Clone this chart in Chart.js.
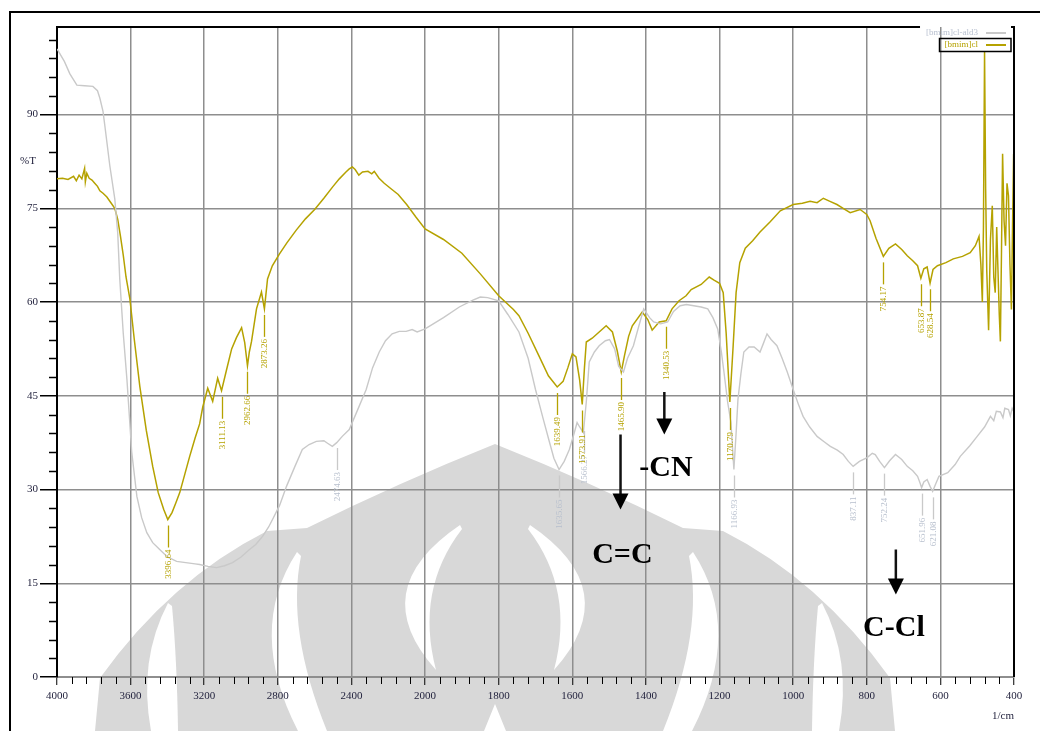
<!DOCTYPE html>
<html><head><meta charset="utf-8">
<script src="https://cdn.jsdelivr.net/npm/chart.js@4.4.0/dist/chart.umd.min.js"></script>
<style>html,body{margin:0;padding:0;background:#fff;}#wrap{position:relative;width:1040px;height:731px;}canvas{background:#fff;}</style>
</head><body><div id="wrap"><canvas id="c" width="1040" height="731"></canvas></div>
<script>
// ---------- DATA ----------
const seriesNames = ['[bmim]cl-ald3', '[bmim]cl'];
const xTickLabels = [4000,3600,3200,2800,2400,2000,1800,1600,1400,1200,1000,800,600,400];
const yTickLabels = [0,15,30,45,60,75,90];

const wnCl = [
 4000,3970,3940,3910,3895,3880,3865,3850,3846,3838,
 3825,3810,3795,3780,3767,3750,3729,3710,3686,3670,
 3655,3640,3625,3604,3580,3550,3515,3480,3450,3420,
 3398,3375,3355,3333,3305,3279,3250,3225,3208,3181,
 3154,3127,3106,3080,3051,3025,2997,2980,2965,2955,
 2943,2916,2889,2873,2856,2830,2791,2750,2700,2650,
 2600,2550,2500,2466,2430,2412,2395,2380,2360,2340,
 2310,2290,2276,2250,2222,2180,2146,2100,2050,2000,
 1950,1900,1850,1800,1760,1745,1720,1690,1665,1641,
 1625,1612,1600,1590,1580,1573,1567,1562,1546,1527,
 1508,1491,1478,1467,1458,1447,1437,1410,1395,1383,
 1364,1345,1329,1310,1291,1277,1250,1228,1215,1200,
 1190,1182,1172,1163,1155,1145,1130,1110,1090,1063,
 1035,1000,975,954,935,918,900,881,862,845,
 818,800,791,775,755,740,722,705,690,675,
 662,653,645,636,628,620,608,585,565,540,
 519,505,495,490,486,483,480,477,474,469,
 464,459,455,451,447,444,440,437,434,431,
 427,423,419,415,411,407,404,401,400];
const tCl = [
 79.7,79.8,79.6,80.1,79.4,80.3,79.7,81.4,79.2,80.6,
 79.8,79.5,79.0,78.5,77.8,77.4,76.8,76.0,75.0,73.2,
 70.5,67.5,64,60.5,54,46.5,39.5,33.7,29.5,26.8,
 25.2,26.3,27.8,29.5,32.5,35.3,38.2,40.5,43.2,46.2,
 44.1,47.8,45.8,49,52.5,54.3,55.9,53.5,49.8,52,
 53.7,58.9,61.6,58.9,63.7,65.8,67.7,69.5,71.5,73.3,
 74.8,76.6,78.5,79.7,80.8,81.3,81.6,81.2,80.3,80.8,
 80.9,80.5,80.9,79.8,79.0,78.0,77.2,75.6,73.6,71.7,
 70.0,67.8,64.5,61,58.8,57.8,55,51.3,48.2,46.4,
 47.3,49.5,51.7,51.2,47.5,43.6,49.5,53.6,54.2,55.2,
 56.2,55.2,52.2,48.8,51.5,54.5,56.2,58.4,57.2,55.5,
 56.8,57.0,58.9,60.2,61,62,62.8,64,63.5,63.0,
 61.5,55,44,53,61.5,66.3,68.6,69.8,71.2,72.8,
 74.6,75.6,75.8,76.1,75.9,76.6,76.1,75.6,74.9,74.3,
 74.8,74.0,73,70.2,67.3,68.6,69.3,68.4,67.4,66.6,
 65.8,63.8,65.3,65.6,63.0,65.2,65.8,66.3,66.9,67.3,
 67.9,69,70.5,66,60,72,100,78,65,55.5,
 70,75.4,64,61.5,72,66,58,53.7,68,83.7,
 73,69,79,77,66,58.8,72,83.7,71];

const wnAld = [
 4000,3960,3930,3892,3850,3805,3780,3767,3750,3740,
 3713,3686,3670,3659,3640,3620,3594,3566,3540,3512,
 3480,3442,3400,3350,3300,3250,3225,3180,3133,3090,
 3046,3000,2954,2920,2883,2850,2829,2790,2753,2710,
 2667,2630,2591,2550,2530,2504,2480,2450,2412,2370,
 2320,2285,2249,2215,2179,2140,2103,2070,2043,2000,
 1950,1907,1870,1850,1830,1800,1775,1745,1720,1700,
 1680,1664,1650,1636,1622,1608,1595,1587,1580,1570,
 1562,1554,1540,1527,1510,1499,1485,1474,1461,1450,
 1434,1420,1406,1390,1379,1360,1341,1325,1307,1290,
 1270,1250,1232,1218,1205,1195,1188,1178,1169,1161,
 1155,1150,1142,1134,1120,1106,1090,1080,1071,1060,
 1044,1030,1016,1000,985,973,955,935,915,899,
 880,864,850,837,820,799,785,777,765,752,
 738,722,705,690,675,662,655,651,645,636,
 628,621,612,604,580,560,546,520,500,480,
 464,455,448,437,430,425,415,410,405,400];
const tAld = [
 100.5,98.5,96.5,94.7,94.6,94.5,93.8,92.6,90.5,88.2,
 81.8,76.5,71,63.7,55,47.6,36,28.9,25.5,23.1,
 21.5,20.4,19.2,18.5,18.3,18.1,18,17.7,17.5,17.8,
 18.3,19.2,20.4,21.2,22.5,24,25.2,27.5,30.5,33.5,
 36.4,37.2,37.7,37.8,37.4,36.9,37.5,38.5,39.6,42.5,
 46,49.5,52,53.8,54.9,55.3,55.3,55.6,55.2,55.7,
 57.5,59.2,60.3,60.8,60.7,60.2,58,55.2,51,46,
 41.5,38,35,33.2,34.5,36.4,39,40.7,40,39.1,
 44,50.4,52,53,53.8,54,52.5,49.7,48.8,51,
 53,56,58.9,57.5,56.8,56.5,56.8,58.5,59.4,59.6,
 59.4,59.2,58.9,57.5,55.7,52,48.8,44,40.7,33.2,
 39,44.4,48.5,52,52.8,52.8,52,53.5,54.9,54,
 53,51,48.8,46,43.5,41.7,40,38.5,37.6,36.9,
 36.3,35.6,34.5,33.7,34.5,35.1,35.8,35.6,34.5,33.5,
 34.6,35.6,34.8,33.7,33,32.1,31,30.3,31.2,31.6,
 30.5,29.7,31,32.1,32.7,34,35.3,37,38.5,40,
 41.7,41,42.5,42.4,41.5,43,42.8,41.8,43,42.4];

const peakWnCl = [3398,3106,2965,2873,1641,1573,1467,1345,1172,755,653,628];
const peakTextCl = ['3396.64','3111.13','2962.66','2873.26','1639.49','1573.91','1465.90','1340.53','1170.79','754.17','653.87','628.54'];
const peakWnAld = [2477,1636,1568,1161,837,752,651,621];
const peakTextAld = ['2474.63','1635.65','1566.27','1166.93','837.11','752.24','651.96','621.08'];

const annoTexts = ['-CN','C=C','C-Cl'];
const annoTextWn = [1418,1546,810];
const annoTextT = [32.2,18.3,6.6];
const arrowWn = [1350,1469,721];
const arrowFromT = [45.6,38.8,20.4];
const arrowToT = [38.8,26.8,13.2];

// ---------- helpers ----------
const fx = w => (w <= 2000 ? w : 2000 + (w - 2000) / 2);   // split wavenumber scale
const ifx = t => (t <= 2000 ? t : 2000 + (t - 2000) * 2);
function valAt(wns, vals, w){
  for (let i = 0; i < wns.length - 1; i++){
    if (wns[i] >= w && w >= wns[i+1]){
      const f = (wns[i] - w) / ((wns[i] - wns[i+1]) || 1);
      return vals[i] + (vals[i+1] - vals[i]) * f;
    }
  }
  return vals[vals.length - 1];
}
const COL_CL = '#b5a200';
const COL_ALD = '#c9c9c9';
const GRID = '#8e8e8e';
const TICKFONT = '"Liberation Serif", serif';

// ---------- background watermark (decorative logo, not data) ----------
// path commands: ['M',x,y] ['L',x,y] ['Q',cx,cy,x,y]; mirrored about x = 495
function shape(c, cmds, mirror){
  const m = x => (mirror ? 990 - x : x);
  c.beginPath();
  for (const k of cmds){
    if (k[0] === 'M') c.moveTo(m(k[1]), k[2]);
    else if (k[0] === 'L') c.lineTo(m(k[1]), k[2]);
    else c.quadraticCurveTo(m(k[1]), k[2], m(k[3]), k[4]);
  }
  c.closePath(); c.fill();
}
const watermark = {
  id: 'watermark',
  beforeDraw(chart){
    const c = chart.ctx; c.save();
    c.fillStyle = '#d8d8d8';
    const half = [['M',495,731],['L',95,731],['L',100,678],['Q',170,580,267,531],['L',307,528],['Q',400,482,495,444],['L',495,731]];
    shape(c, half, false); shape(c, half, true);
    c.fillStyle = '#ffffff';
    const outer = [['M',168,603],['Q',138,660,151,731],['L',178,731],['Q',177,660,172,606]];
    const mid = [['M',297,552],['Q',246,630,298,731],['L',327,731],['Q',286,630,301,556]];
    const lens = [['M',460,525],['Q',364,590,436,670],['Q',415,590,462,529]];
    for (const s of [outer, mid, lens]){ shape(c, s, false); shape(c, s, true); }
    shape(c, [['M',495,704],['L',506,731],['L',484,731]], false);
    c.restore();
  }
};

const peakLabels = {
  id: 'peakLabels',
  afterDatasetsDraw(chart){
    const c = chart.ctx, xs = chart.scales.x, ys = chart.scales.y;
    const sets = [
      [wnAld, tAld, peakWnAld, peakTextAld, COL_ALD, '#b7bfcd'],
      [wnCl, tCl, peakWnCl, peakTextCl, COL_CL, COL_CL]
    ];
    c.save();
    for (const [wns, vals, pw, pt, lc, tc] of sets){
      pw.forEach((w, i) => {
        const x = Math.round(xs.getPixelForValue(fx(w))) + 0.5;
        const y = ys.getPixelForValue(valAt(wns, vals, w));
        c.strokeStyle = lc; c.lineWidth = 1.3;
        c.beginPath(); c.moveTo(x, y + 6); c.lineTo(x, y + 28); c.stroke();
        c.save(); c.translate(x, y + 30); c.rotate(-Math.PI/2);
        c.fillStyle = tc; c.font = '9px ' + TICKFONT; c.textAlign = 'right'; c.textBaseline = 'middle';
        c.fillText(pt[i], 0, 0); c.restore();
      });
    }
    c.restore();
  }
};

const frame = {
  id: 'frame',
  afterDraw(chart){
    const c = chart.ctx, a = chart.chartArea, xs = chart.scales.x, ys = chart.scales.y;
    c.save();
    // minor ticks
    c.strokeStyle = '#000'; c.lineWidth = 1;
    for (let k = 0; k < xTickLabels.length - 1; k++){
      const w0 = xTickLabels[k], w1 = xTickLabels[k+1];
      for (let j = 1; j < 5; j++){
        const w = w0 + (w1 - w0) * j / 5;
        const x = Math.round(xs.getPixelForValue(fx(w))) + 0.5;
        c.beginPath(); c.moveTo(x, a.bottom); c.lineTo(x, a.bottom + 7); c.stroke();
      }
    }
    c.lineWidth = 1.5;
    for (let v = 3; v <= 102; v += 3){
      if (v % 15 === 0) continue;
      const y = Math.round(ys.getPixelForValue(v)) + 0.5;
      c.beginPath(); c.moveTo(a.left - 8, y); c.lineTo(a.left, y); c.stroke();
    }
    // outer frame
    c.lineWidth = 2; c.strokeStyle = '#000';
    c.beginPath(); c.moveTo(10, 731); c.lineTo(10, 12); c.lineTo(1040, 12); c.stroke();
    // legend
    c.font = '9px ' + TICKFONT; c.textBaseline = 'middle'; c.textAlign = 'right';
    const lx = a.right - 36;
    c.fillStyle = '#b9c1d0'; c.fillText(seriesNames[0], lx, a.top + 6);
    c.fillStyle = COL_CL; c.fillText(seriesNames[1], lx, a.top + 18);
    c.strokeStyle = COL_ALD; c.lineWidth = 2;
    c.beginPath(); c.moveTo(lx + 8, a.top + 6); c.lineTo(lx + 28, a.top + 6); c.stroke();
    c.strokeStyle = COL_CL;
    c.beginPath(); c.moveTo(lx + 8, a.top + 18); c.lineTo(lx + 28, a.top + 18); c.stroke();
    const w0 = c.measureText(seriesNames[0]).width, w1 = c.measureText(seriesNames[1]).width;
    c.strokeStyle = '#000'; c.lineWidth = 1.5;
    c.strokeRect(lx - w1 - 5, a.top + 11.5, w1 + 38, 13);
    // plot border top/right
    c.lineWidth = 2;
    c.beginPath(); c.moveTo(a.left, a.top); c.lineTo(lx - w0 - 6, a.top); c.stroke();
    c.beginPath(); c.moveTo(a.right - 3, a.top); c.lineTo(a.right, a.top); c.lineTo(a.right, a.bottom); c.stroke();
    // axis titles
    c.fillStyle = '#1e1e3a'; c.font = '11px ' + TICKFONT; c.textAlign = 'left';
    c.fillText('%T', 20, ys.getPixelForValue(82.5));
    c.fillText('1/cm', a.right - 22, a.bottom + 39);
    // annotations
    c.fillStyle = '#000'; c.strokeStyle = '#111'; c.lineWidth = 2.5;
    arrowWn.forEach((w, i) => {
      const x = xs.getPixelForValue(fx(w));
      const y0 = ys.getPixelForValue(arrowFromT[i]), y1 = ys.getPixelForValue(arrowToT[i]);
      c.beginPath(); c.moveTo(x, y0); c.lineTo(x, y1 - 14); c.stroke();
      c.beginPath(); c.moveTo(x - 8, y1 - 16); c.lineTo(x + 8, y1 - 16); c.lineTo(x, y1); c.closePath(); c.fill();
    });
    c.font = 'bold 30px "Liberation Serif", serif'; c.textAlign = 'left'; c.textBaseline = 'alphabetic';
    annoTexts.forEach((t, i) => {
      c.fillText(t, xs.getPixelForValue(fx(annoTextWn[i])), ys.getPixelForValue(annoTextT[i]));
    });
    c.restore();
  }
};

// ---------- chart ----------
const ctx = document.getElementById('c').getContext('2d');
new Chart(ctx, {
  type: 'line',
  data: {
    datasets: [
      { label: seriesNames[0], data: wnAld.map((w, i) => ({ x: fx(w), y: tAld[i] })), borderColor: COL_ALD, borderWidth: 1.4, pointRadius: 0, tension: 0, fill: false },
      { label: seriesNames[1], data: wnCl.map((w, i) => ({ x: fx(w), y: tCl[i] })), borderColor: COL_CL, borderWidth: 1.5, pointRadius: 0, tension: 0, fill: false }
    ]
  },
  options: {
    responsive: false, animation: false, devicePixelRatio: 1,
    layout: { padding: { left: 0, right: 26, top: 27, bottom: 0 } },
    plugins: { legend: { display: false }, tooltip: { enabled: false } },
    scales: {
      x: {
        type: 'linear', reverse: true, min: fx(400), max: fx(4000),
        afterBuildTicks: s => { s.ticks = xTickLabels.map(v => ({ value: fx(v) })); },
        afterFit: s => { s.height = 54; },
        ticks: { callback: v => String(ifx(v)), font: { family: TICKFONT, size: 11 }, color: '#1e1e3a', maxRotation: 0, autoSkip: false, padding: 5 },
        grid: { color: GRID, lineWidth: 1.5, tickLength: 8, tickColor: '#000', tickWidth: 1 },
        border: { display: true, color: GRID, width: 2 }
      },
      y: {
        min: 0, max: 104,
        afterBuildTicks: s => { s.ticks = yTickLabels.map(v => ({ value: v })); },
        afterFit: s => { s.width = 57; },
        ticks: { font: { family: TICKFONT, size: 11 }, color: '#1e1e3a', padding: 2 },
        grid: { color: GRID, lineWidth: 1.5, tickLength: 17, tickColor: '#000', tickWidth: 1.5 },
        border: { display: true, color: '#000', width: 2 }
      }
    }
  },
  plugins: [watermark, peakLabels, frame]
});
</script></body></html>
